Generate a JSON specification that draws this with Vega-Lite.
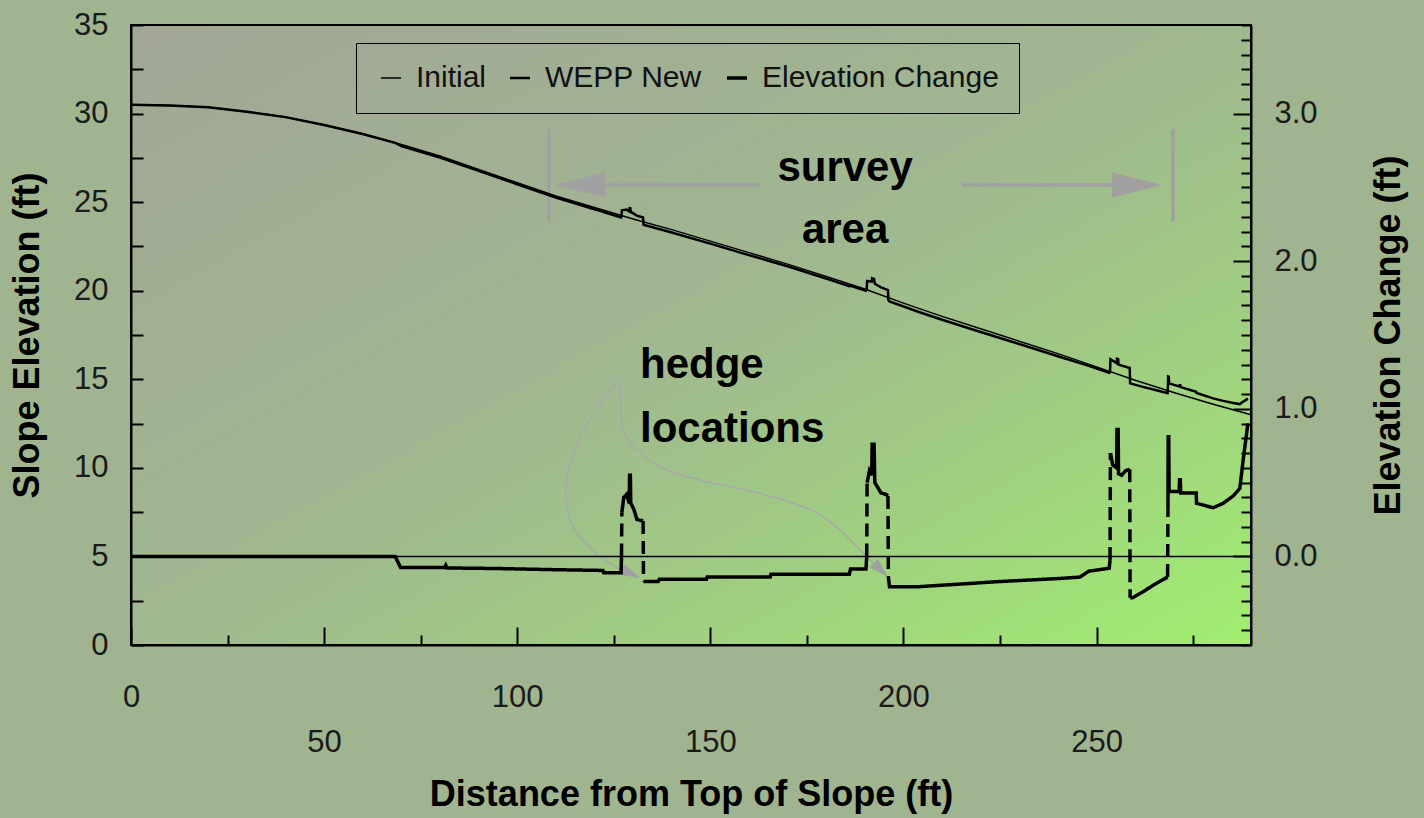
{
  "$schema": "https://vega.github.io/schema/vega-lite/v6.json",
  "width": 1120,
  "height": 620,
  "autosize": {"type": "none"},
  "padding": {"left": 131, "top": 25, "right": 173, "bottom": 173},
  "background": "#a0b48f",
  "config": {
    "view": {
      "stroke": "black",
      "strokeWidth": 2,
      "fill": {"gradient": "linear", "x1": 0, "y1": 0, "x2": 1, "y2": 1,
        "stops": [
          {"offset": 0, "color": "#a2a696"},
          {"offset": 0.5, "color": "#a0b890"},
          {"offset": 0.75, "color": "#a0d080"},
          {"offset": 1, "color": "#a0ee70"}
        ]}
    },
    "font": "Liberation Sans",
    "axis": {
      "grid": false,
      "domainColor": "black",
      "domainWidth": 2,
      "tickColor": "black",
      "tickWidth": 2,
      "labelFont": "Liberation Sans",
      "labelFontSize": 31,
      "labelColor": "#1a1a1a",
      "titleFont": "Liberation Sans",
      "titleFontSize": 36,
      "titleFontWeight": "bold",
      "titleColor": "black",
      "labelOverlap": false,
      "labelBound": false,
      "labelFlush": false
    }
  },
  "datasets": {
    "profile": [
      {"series": "Initial", "x": 0, "y": 30.5},
      {"series": "Initial", "x": 10, "y": 30.45},
      {"series": "Initial", "x": 20, "y": 30.35},
      {"series": "Initial", "x": 30, "y": 30.1},
      {"series": "Initial", "x": 40, "y": 29.8},
      {"series": "Initial", "x": 50, "y": 29.35},
      {"series": "Initial", "x": 60, "y": 28.85},
      {"series": "Initial", "x": 70, "y": 28.25},
      {"series": "Initial", "x": 80, "y": 27.6},
      {"series": "Initial", "x": 90, "y": 26.85},
      {"series": "Initial", "x": 100, "y": 26.1},
      {"series": "Initial", "x": 110, "y": 25.35},
      {"series": "Initial", "x": 120, "y": 24.7},
      {"series": "Initial", "x": 130, "y": 24.05},
      {"series": "Initial", "x": 140, "y": 23.45},
      {"series": "Initial", "x": 150, "y": 22.8},
      {"series": "Initial", "x": 160, "y": 22.15},
      {"series": "Initial", "x": 170, "y": 21.5},
      {"series": "Initial", "x": 180, "y": 20.8},
      {"series": "Initial", "x": 190, "y": 20.1},
      {"series": "Initial", "x": 200, "y": 19.3},
      {"series": "Initial", "x": 210, "y": 18.55},
      {"series": "Initial", "x": 220, "y": 17.85},
      {"series": "Initial", "x": 230, "y": 17.15},
      {"series": "Initial", "x": 240, "y": 16.45},
      {"series": "Initial", "x": 250, "y": 15.7},
      {"series": "Initial", "x": 260, "y": 14.95},
      {"series": "Initial", "x": 270, "y": 14.25},
      {"series": "Initial", "x": 280, "y": 13.6},
      {"series": "Initial", "x": 290, "y": 13.0},
      {"series": "WEPP New", "x": 0, "y": 30.5},
      {"series": "WEPP New", "x": 10, "y": 30.45},
      {"series": "WEPP New", "x": 20, "y": 30.35},
      {"series": "WEPP New", "x": 30, "y": 30.1},
      {"series": "WEPP New", "x": 40, "y": 29.8},
      {"series": "WEPP New", "x": 50, "y": 29.35},
      {"series": "WEPP New", "x": 60, "y": 28.85},
      {"series": "WEPP New", "x": 68.4, "y": 28.35},
      {"series": "WEPP New", "x": 70, "y": 28.17},
      {"series": "WEPP New", "x": 80, "y": 27.52},
      {"series": "WEPP New", "x": 90, "y": 26.77},
      {"series": "WEPP New", "x": 100, "y": 26.01},
      {"series": "WEPP New", "x": 110, "y": 25.26},
      {"series": "WEPP New", "x": 120, "y": 24.6},
      {"series": "WEPP New", "x": 122.2, "y": 24.47},
      {"series": "WEPP New", "x": 122.4, "y": 24.43},
      {"series": "WEPP New", "x": 126.9, "y": 24.14},
      {"series": "WEPP New", "x": 127.0, "y": 24.25},
      {"series": "WEPP New", "x": 127.1, "y": 24.54},
      {"series": "WEPP New", "x": 128.3, "y": 24.58},
      {"series": "WEPP New", "x": 129.0, "y": 24.48},
      {"series": "WEPP New", "x": 129.1, "y": 24.66},
      {"series": "WEPP New", "x": 129.3, "y": 24.65},
      {"series": "WEPP New", "x": 129.4, "y": 24.45},
      {"series": "WEPP New", "x": 131.0, "y": 24.24},
      {"series": "WEPP New", "x": 132.6, "y": 24.13},
      {"series": "WEPP New", "x": 132.7, "y": 23.72},
      {"series": "WEPP New", "x": 140, "y": 23.29},
      {"series": "WEPP New", "x": 150, "y": 22.66},
      {"series": "WEPP New", "x": 160, "y": 22.01},
      {"series": "WEPP New", "x": 165.5, "y": 21.66},
      {"series": "WEPP New", "x": 170, "y": 21.38},
      {"series": "WEPP New", "x": 180, "y": 20.68},
      {"series": "WEPP New", "x": 186, "y": 20.26},
      {"series": "WEPP New", "x": 186.3, "y": 20.28},
      {"series": "WEPP New", "x": 190.3, "y": 20.0},
      {"series": "WEPP New", "x": 190.5, "y": 20.06},
      {"series": "WEPP New", "x": 190.6, "y": 20.55},
      {"series": "WEPP New", "x": 191.8, "y": 20.51},
      {"series": "WEPP New", "x": 191.9, "y": 20.71},
      {"series": "WEPP New", "x": 192.4, "y": 20.67},
      {"series": "WEPP New", "x": 192.6, "y": 20.39},
      {"series": "WEPP New", "x": 194.2, "y": 20.19},
      {"series": "WEPP New", "x": 196.0, "y": 20.03},
      {"series": "WEPP New", "x": 196.1, "y": 19.47},
      {"series": "WEPP New", "x": 196.4, "y": 19.39},
      {"series": "WEPP New", "x": 204, "y": 18.8},
      {"series": "WEPP New", "x": 210, "y": 18.36},
      {"series": "WEPP New", "x": 220, "y": 17.67},
      {"series": "WEPP New", "x": 230, "y": 16.99},
      {"series": "WEPP New", "x": 240, "y": 16.3},
      {"series": "WEPP New", "x": 245.7, "y": 15.91},
      {"series": "WEPP New", "x": 248, "y": 15.76},
      {"series": "WEPP New", "x": 253.3, "y": 15.37},
      {"series": "WEPP New", "x": 253.5, "y": 15.41},
      {"series": "WEPP New", "x": 253.6, "y": 16.13},
      {"series": "WEPP New", "x": 255.2, "y": 15.91},
      {"series": "WEPP New", "x": 255.3, "y": 16.16},
      {"series": "WEPP New", "x": 255.6, "y": 16.14},
      {"series": "WEPP New", "x": 255.7, "y": 15.83},
      {"series": "WEPP New", "x": 258.6, "y": 15.64},
      {"series": "WEPP New", "x": 258.7, "y": 14.77},
      {"series": "WEPP New", "x": 262, "y": 14.57},
      {"series": "WEPP New", "x": 265, "y": 14.41},
      {"series": "WEPP New", "x": 268.4, "y": 14.22},
      {"series": "WEPP New", "x": 268.5, "y": 14.67},
      {"series": "WEPP New", "x": 268.55, "y": 15.16},
      {"series": "WEPP New", "x": 268.7, "y": 15.15},
      {"series": "WEPP New", "x": 268.8, "y": 14.77},
      {"series": "WEPP New", "x": 271.4, "y": 14.6},
      {"series": "WEPP New", "x": 271.5, "y": 14.67},
      {"series": "WEPP New", "x": 271.7, "y": 14.66},
      {"series": "WEPP New", "x": 271.8, "y": 14.56},
      {"series": "WEPP New", "x": 275.8, "y": 14.3},
      {"series": "WEPP New", "x": 275.9, "y": 14.23},
      {"series": "WEPP New", "x": 280.2, "y": 13.92},
      {"series": "WEPP New", "x": 282.8, "y": 13.78},
      {"series": "WEPP New", "x": 285.4, "y": 13.66},
      {"series": "WEPP New", "x": 287.1, "y": 13.6},
      {"series": "WEPP New", "x": 288, "y": 13.74},
      {"series": "WEPP New", "x": 289, "y": 13.88},
      {"series": "WEPP New", "x": 289.2, "y": 13.91}
    ],
    "change": [
      {"series": "Elevation Change", "seg": "s1", "kind": "solid", "x": 0, "change": 0},
      {"series": "Elevation Change", "seg": "s1", "kind": "solid", "x": 68.4, "change": 0},
      {"series": "Elevation Change", "seg": "s1", "kind": "solid", "x": 69.8, "change": -0.075},
      {"series": "Elevation Change", "seg": "s1", "kind": "solid", "x": 81.2, "change": -0.075},
      {"series": "Elevation Change", "seg": "s1", "kind": "solid", "x": 81.5, "change": -0.06},
      {"series": "Elevation Change", "seg": "s1", "kind": "solid", "x": 81.8, "change": -0.078},
      {"series": "Elevation Change", "seg": "s1", "kind": "solid", "x": 95, "change": -0.082},
      {"series": "Elevation Change", "seg": "s1", "kind": "solid", "x": 110, "change": -0.09},
      {"series": "Elevation Change", "seg": "s1", "kind": "solid", "x": 122.2, "change": -0.095},
      {"series": "Elevation Change", "seg": "s1", "kind": "solid", "x": 122.4, "change": -0.11},
      {"series": "Elevation Change", "seg": "s1", "kind": "solid", "x": 126.9, "change": -0.11},
      {"series": "Elevation Change", "seg": "s1", "kind": "solid", "x": 127.0, "change": 0},
      {"series": "Elevation Change", "seg": "j1", "kind": "jump", "x": 127.0, "change": 0},
      {"series": "Elevation Change", "seg": "j1", "kind": "jump", "x": 127.1, "change": 0.30},
      {"series": "Elevation Change", "seg": "s2", "kind": "solid", "x": 127.1, "change": 0.30},
      {"series": "Elevation Change", "seg": "s2", "kind": "solid", "x": 127.6, "change": 0.40},
      {"series": "Elevation Change", "seg": "s2", "kind": "solid", "x": 128.3, "change": 0.42},
      {"series": "Elevation Change", "seg": "s2", "kind": "solid", "x": 129.0, "change": 0.36},
      {"series": "Elevation Change", "seg": "s2", "kind": "solid", "x": 129.1, "change": 0.55},
      {"series": "Elevation Change", "seg": "s2", "kind": "solid", "x": 129.3, "change": 0.55},
      {"series": "Elevation Change", "seg": "s2", "kind": "solid", "x": 129.4, "change": 0.36},
      {"series": "Elevation Change", "seg": "s2", "kind": "solid", "x": 130.2, "change": 0.32},
      {"series": "Elevation Change", "seg": "s2", "kind": "solid", "x": 131.0, "change": 0.25},
      {"series": "Elevation Change", "seg": "s2", "kind": "solid", "x": 132.6, "change": 0.24},
      {"series": "Elevation Change", "seg": "j2", "kind": "jump", "x": 132.6, "change": 0.24},
      {"series": "Elevation Change", "seg": "j2", "kind": "jump", "x": 132.7, "change": -0.17},
      {"series": "Elevation Change", "seg": "s3", "kind": "solid", "x": 132.7, "change": -0.17},
      {"series": "Elevation Change", "seg": "s3", "kind": "solid", "x": 136.5, "change": -0.17},
      {"series": "Elevation Change", "seg": "s3", "kind": "solid", "x": 136.8, "change": -0.155},
      {"series": "Elevation Change", "seg": "s3", "kind": "solid", "x": 149, "change": -0.155},
      {"series": "Elevation Change", "seg": "s3", "kind": "solid", "x": 149.2, "change": -0.14},
      {"series": "Elevation Change", "seg": "s3", "kind": "solid", "x": 165.5, "change": -0.14},
      {"series": "Elevation Change", "seg": "s3", "kind": "solid", "x": 165.7, "change": -0.12},
      {"series": "Elevation Change", "seg": "s3", "kind": "solid", "x": 186, "change": -0.12},
      {"series": "Elevation Change", "seg": "s3", "kind": "solid", "x": 186.3, "change": -0.085},
      {"series": "Elevation Change", "seg": "s3", "kind": "solid", "x": 190.3, "change": -0.085},
      {"series": "Elevation Change", "seg": "s3", "kind": "solid", "x": 190.5, "change": 0},
      {"series": "Elevation Change", "seg": "j3", "kind": "jump", "x": 190.5, "change": 0},
      {"series": "Elevation Change", "seg": "j3", "kind": "jump", "x": 190.6, "change": 0.50},
      {"series": "Elevation Change", "seg": "s4", "kind": "solid", "x": 190.6, "change": 0.50},
      {"series": "Elevation Change", "seg": "s4", "kind": "solid", "x": 191.2, "change": 0.58},
      {"series": "Elevation Change", "seg": "s4", "kind": "solid", "x": 191.8, "change": 0.55},
      {"series": "Elevation Change", "seg": "s4", "kind": "solid", "x": 191.9, "change": 0.76},
      {"series": "Elevation Change", "seg": "s4", "kind": "solid", "x": 192.4, "change": 0.76},
      {"series": "Elevation Change", "seg": "s4", "kind": "solid", "x": 192.6, "change": 0.50},
      {"series": "Elevation Change", "seg": "s4", "kind": "solid", "x": 193.3, "change": 0.47},
      {"series": "Elevation Change", "seg": "s4", "kind": "solid", "x": 194.2, "change": 0.43},
      {"series": "Elevation Change", "seg": "s4", "kind": "solid", "x": 195.5, "change": 0.42},
      {"series": "Elevation Change", "seg": "s4", "kind": "solid", "x": 196.0, "change": 0.41},
      {"series": "Elevation Change", "seg": "j4", "kind": "jump", "x": 196.0, "change": 0.41},
      {"series": "Elevation Change", "seg": "j4", "kind": "jump", "x": 196.1, "change": -0.14},
      {"series": "Elevation Change", "seg": "s5", "kind": "solid", "x": 196.1, "change": -0.14},
      {"series": "Elevation Change", "seg": "s5", "kind": "solid", "x": 196.4, "change": -0.205},
      {"series": "Elevation Change", "seg": "s5", "kind": "solid", "x": 204, "change": -0.205},
      {"series": "Elevation Change", "seg": "s5", "kind": "solid", "x": 210, "change": -0.195},
      {"series": "Elevation Change", "seg": "s5", "kind": "solid", "x": 225, "change": -0.17},
      {"series": "Elevation Change", "seg": "s5", "kind": "solid", "x": 240, "change": -0.15},
      {"series": "Elevation Change", "seg": "s5", "kind": "solid", "x": 245.7, "change": -0.14},
      {"series": "Elevation Change", "seg": "s5", "kind": "solid", "x": 248, "change": -0.1},
      {"series": "Elevation Change", "seg": "s5", "kind": "solid", "x": 253.3, "change": -0.08},
      {"series": "Elevation Change", "seg": "s5", "kind": "solid", "x": 253.5, "change": -0.025},
      {"series": "Elevation Change", "seg": "j5", "kind": "jump", "x": 253.5, "change": -0.025},
      {"series": "Elevation Change", "seg": "j5", "kind": "jump", "x": 253.6, "change": 0.70},
      {"series": "Elevation Change", "seg": "s6", "kind": "solid", "x": 253.6, "change": 0.70},
      {"series": "Elevation Change", "seg": "s6", "kind": "solid", "x": 254.2, "change": 0.62},
      {"series": "Elevation Change", "seg": "s6", "kind": "solid", "x": 255.2, "change": 0.60},
      {"series": "Elevation Change", "seg": "s6", "kind": "solid", "x": 255.3, "change": 0.86},
      {"series": "Elevation Change", "seg": "s6", "kind": "solid", "x": 255.6, "change": 0.86},
      {"series": "Elevation Change", "seg": "s6", "kind": "solid", "x": 255.7, "change": 0.56},
      {"series": "Elevation Change", "seg": "s6", "kind": "solid", "x": 256.5, "change": 0.55},
      {"series": "Elevation Change", "seg": "s6", "kind": "solid", "x": 257.5, "change": 0.58},
      {"series": "Elevation Change", "seg": "s6", "kind": "solid", "x": 258.6, "change": 0.59},
      {"series": "Elevation Change", "seg": "j6", "kind": "jump", "x": 258.6, "change": 0.59},
      {"series": "Elevation Change", "seg": "j6", "kind": "jump", "x": 258.7, "change": -0.28},
      {"series": "Elevation Change", "seg": "s7", "kind": "solid", "x": 258.7, "change": -0.28},
      {"series": "Elevation Change", "seg": "s7", "kind": "solid", "x": 259.3, "change": -0.28},
      {"series": "Elevation Change", "seg": "s7", "kind": "solid", "x": 262, "change": -0.24},
      {"series": "Elevation Change", "seg": "s7", "kind": "solid", "x": 265, "change": -0.19},
      {"series": "Elevation Change", "seg": "s7", "kind": "solid", "x": 268.4, "change": -0.14},
      {"series": "Elevation Change", "seg": "j7", "kind": "jump", "x": 268.4, "change": -0.14},
      {"series": "Elevation Change", "seg": "j7", "kind": "jump", "x": 268.5, "change": 0.31},
      {"series": "Elevation Change", "seg": "s8", "kind": "solid", "x": 268.5, "change": 0.31},
      {"series": "Elevation Change", "seg": "s8", "kind": "solid", "x": 268.55, "change": 0.81},
      {"series": "Elevation Change", "seg": "s8", "kind": "solid", "x": 268.7, "change": 0.81},
      {"series": "Elevation Change", "seg": "s8", "kind": "solid", "x": 268.8, "change": 0.44},
      {"series": "Elevation Change", "seg": "s8", "kind": "solid", "x": 271.4, "change": 0.44},
      {"series": "Elevation Change", "seg": "s8", "kind": "solid", "x": 271.5, "change": 0.52},
      {"series": "Elevation Change", "seg": "s8", "kind": "solid", "x": 271.7, "change": 0.52},
      {"series": "Elevation Change", "seg": "s8", "kind": "solid", "x": 271.8, "change": 0.43},
      {"series": "Elevation Change", "seg": "s8", "kind": "solid", "x": 275.8, "change": 0.43},
      {"series": "Elevation Change", "seg": "s8", "kind": "solid", "x": 275.9, "change": 0.36},
      {"series": "Elevation Change", "seg": "s8", "kind": "solid", "x": 280.2, "change": 0.33},
      {"series": "Elevation Change", "seg": "s8", "kind": "solid", "x": 282.8, "change": 0.36},
      {"series": "Elevation Change", "seg": "s8", "kind": "solid", "x": 285.4, "change": 0.41},
      {"series": "Elevation Change", "seg": "s8", "kind": "solid", "x": 287.1, "change": 0.46},
      {"series": "Elevation Change", "seg": "s8", "kind": "solid", "x": 288.0, "change": 0.66},
      {"series": "Elevation Change", "seg": "s8", "kind": "solid", "x": 289.0, "change": 0.86},
      {"series": "Elevation Change", "seg": "s8", "kind": "solid", "x": 289.2, "change": 0.9}
    ],
    "zeroLine": [{"x": 0, "x2": 290, "change": 0}],
    "surveyLines": [
      {"x": 108.2, "x2": 108.2, "y": 29.1, "y2": 23.9},
      {"x": 269.8, "x2": 269.8, "y": 29.1, "y2": 23.9},
      {"x": 110.3, "x2": 163.1, "y": 25.97, "y2": 25.97},
      {"x": 215.2, "x2": 255.3, "y": 25.97, "y2": 25.97}
    ],
    "arrowHeads": [
      {"x": 109.8, "y": 25.97, "head": "left"},
      {"x": 267.0, "y": 25.97, "head": "right"},
      {"x": 131.8, "y": 3.78, "head": "h1"},
      {"x": 196.0, "y": 3.84, "head": "h2"}
    ],
    "curves": [
      {"curve": "a", "i": 0, "x": 125.8, "y": 14.85},
      {"curve": "a", "i": 1, "x": 121.4, "y": 13.55},
      {"curve": "a", "i": 2, "x": 117.0, "y": 12.02},
      {"curve": "a", "i": 3, "x": 113.7, "y": 10.16},
      {"curve": "a", "i": 4, "x": 112.6, "y": 8.47},
      {"curve": "a", "i": 5, "x": 114.2, "y": 6.77},
      {"curve": "a", "i": 6, "x": 118.9, "y": 5.48},
      {"curve": "a", "i": 7, "x": 124.6, "y": 4.52},
      {"curve": "a", "i": 8, "x": 129.5, "y": 3.95},
      {"curve": "b", "i": 0, "x": 126.6, "y": 14.85},
      {"curve": "b", "i": 1, "x": 126.9, "y": 13.55},
      {"curve": "b", "i": 2, "x": 127.4, "y": 12.14},
      {"curve": "b", "i": 3, "x": 131.0, "y": 11.01},
      {"curve": "b", "i": 4, "x": 137.0, "y": 10.05},
      {"curve": "b", "i": 5, "x": 147.3, "y": 9.31},
      {"curve": "b", "i": 6, "x": 159.3, "y": 8.75},
      {"curve": "b", "i": 7, "x": 168.8, "y": 8.19},
      {"curve": "b", "i": 8, "x": 177.6, "y": 7.45},
      {"curve": "b", "i": 9, "x": 183.6, "y": 6.49},
      {"curve": "b", "i": 10, "x": 188.0, "y": 5.53},
      {"curve": "b", "i": 11, "x": 191.9, "y": 4.69},
      {"curve": "b", "i": 12, "x": 194.5, "y": 4.1}
    ],
    "surveyText": [
      {"x": 184.9, "y": 26.19, "text": "survey"},
      {"x": 184.9, "y": 22.69, "text": "area"}
    ],
    "hedgeText": [
      {"x": 131.8, "y": 15.07, "text": "hedge"},
      {"x": 131.8, "y": 11.46, "text": "locations"}
    ]
  },
  "encoding": {
    "x": {
      "field": "x",
      "type": "quantitative",
      "scale": {"domain": [0, 290], "nice": false, "zero": false},
      "axis": {
        "title": "Distance from Top of Slope (ft)",
        "values": [0, 25, 50, 75, 100, 125, 150, 175, 200, 225, 250, 275],
        "labelExpr": "datum.value % 100 === 0 ? datum.label : (datum.value % 50 === 0 ? ['', datum.label] : '')",
        "tickSize": {"condition": {"test": "datum.value % 50 === 0", "value": -18}, "value": -10},
        "labelPadding": 55,
        "labelLineHeight": 45,
        "titlePadding": 20
      }
    }
  },
  "layer": [
    {
      "encoding": {
        "y": {
          "field": "y",
          "type": "quantitative",
          "scale": {"domain": [0, 35], "nice": false, "zero": false},
          "axis": {
            "title": "Slope Elevation (ft)",
            "orient": "left",
            "values": [0, 2.5, 5, 7.5, 10, 12.5, 15, 17.5, 20, 22.5, 25, 27.5, 30, 32.5, 35],
            "labelExpr": "datum.value % 5 === 0 ? datum.label : ''",
            "tickSize": -12,
            "labelPadding": 35,
            "titlePadding": 27
          }
        }
      },
      "layer": [
        {
          "data": {"name": "surveyLines"},
          "mark": {"type": "rule", "color": "#a0a0a0", "strokeWidth": 3.5},
          "encoding": {"x2": {"field": "x2"}, "y2": {"field": "y2"}}
        },
        {
          "data": {"name": "curves"},
          "mark": {"type": "line", "interpolate": "catmull-rom", "color": "#a8a8a8", "strokeWidth": 1.5},
          "encoding": {"detail": {"field": "curve"}, "order": {"field": "i", "type": "quantitative"}}
        },
        {
          "data": {"name": "arrowHeads"},
          "mark": {"type": "point", "filled": true, "color": "#a0a0a0", "opacity": 1, "size": 100, "strokeWidth": 0},
          "encoding": {
            "shape": {
              "field": "head",
              "type": "nominal",
              "scale": {
                "domain": ["left", "right", "h1", "h2"],
                "range": ["M0,0L10,-2.5L10,2.5Z", "M0,0L-10,-2.5L-10,2.5Z", "M0,0L-4.13,-0.6L-3.12,-2.78Z", "M0,0L-3.71,-1.92L-2.04,-3.64Z"]
              },
              "legend": null
            }
          }
        },
        {
          "data": {"name": "surveyText"},
          "mark": {"type": "text", "font": "Liberation Sans", "fontSize": 42, "fontWeight": "bold", "align": "center", "baseline": "alphabetic", "color": "black"},
          "encoding": {"text": {"field": "text"}}
        },
        {
          "data": {"name": "hedgeText"},
          "mark": {"type": "text", "font": "Liberation Sans", "fontSize": 42, "fontWeight": "bold", "align": "left", "baseline": "alphabetic", "color": "black"},
          "encoding": {"text": {"field": "text"}}
        },
        {
          "data": {"name": "profile"},
          "mark": {"type": "line", "color": "black"},
          "encoding": {
            "strokeWidth": {
              "field": "series",
              "type": "ordinal",
              "scale": {"domain": ["Initial", "WEPP New", "Elevation Change"], "range": [1.5, 3.5, 4.5]},
              "legend": {
                "title": null,
                "orient": "none",
                "legendX": 225,
                "legendY": 18,
                "direction": "horizontal",
                "strokeColor": "black",
                "padding": 20,
                "labelFont": "Liberation Sans",
                "labelFontSize": 30,
                "labelLimit": 0,
                "labelColor": "#111111",
                "symbolType": "stroke",
                "symbolStrokeColor": "black",
                "symbolSize": 400,
                "labelOffset": 10,
                "columnPadding": 18
              }
            }
          }
        }
      ]
    },
    {
      "encoding": {
        "y": {
          "field": "change",
          "type": "quantitative",
          "scale": {"domain": [-0.6, 3.6], "nice": false, "zero": false},
          "axis": {
            "title": "Elevation Change (ft)",
            "orient": "right",
            "values": [-0.6, -0.5, -0.4, -0.3, -0.2, -0.1, 0, 0.1, 0.2, 0.3, 0.4, 0.5, 0.6, 0.7, 0.8, 0.9, 1, 1.1, 1.2, 1.3, 1.4, 1.5, 1.6, 1.7, 1.8, 1.9, 2, 2.1, 2.2, 2.3, 2.4, 2.5, 2.6, 2.7, 2.8, 2.9, 3, 3.1, 3.2, 3.3, 3.4, 3.5, 3.6],
            "labelExpr": "abs(datum.value - round(datum.value)) < 0.001 ? format(datum.value, '.1f') : ''",
            "tickSize": {"condition": {"test": "abs(datum.value - round(datum.value)) < 0.001", "value": -18}, "value": -10},
            "labelPadding": 41,
            "titleAngle": 270,
            "titlePadding": 90
          }
        }
      },
      "layer": [
        {
          "data": {"name": "zeroLine"},
          "mark": {"type": "rule", "color": "black", "strokeWidth": 1.5},
          "encoding": {"x2": {"field": "x2"}}
        },
        {
          "data": {"name": "change"},
          "mark": {"type": "line", "color": "black", "strokeCap": "butt"},
          "encoding": {
            "strokeWidth": {
              "field": "series",
              "type": "ordinal",
              "scale": {"domain": ["Initial", "WEPP New", "Elevation Change"], "range": [1.5, 3.5, 4.5]}
            },
            "strokeDash": {
              "field": "kind",
              "type": "nominal",
              "scale": {"domain": ["solid", "jump"], "range": [[1, 0], [13, 7]]},
              "legend": null
            },
            "detail": {"field": "seg"}
          }
        }
      ]
    }
  ],
  "resolve": {"scale": {"y": "independent"}}
}
